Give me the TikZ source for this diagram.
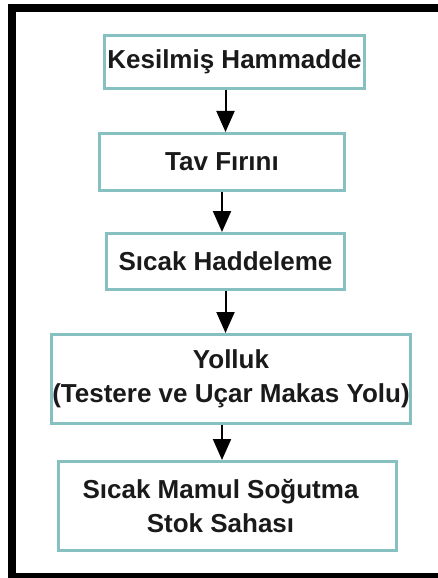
\documentclass[tikz,border=0pt]{standalone}
\usepackage{fontspec}
\setmainfont{Liberation Sans}
\usetikzlibrary{arrows.meta,positioning}
\definecolor{akisKenar}{HTML}{86C0C0}
\definecolor{akisYazi}{HTML}{1A1A1A}
\tikzset{
  kutu/.style={rectangle, draw=akisKenar, line width=3bp, fill=white, align=center, inner sep=0pt, text=akisYazi, font=\fontsize{26bp}{34bp}\selectfont\bfseries},
  ok/.style={-{Triangle[width=18bp,length=21bp]}, line width=2bp, draw=black}
}
\begin{document}
\begin{tikzpicture}[x=1bp, y=-1bp, node distance=42bp]
  \useasboundingbox (0,0) rectangle (438,578);
  \draw[line width=8bp] (446,8) -- (12,8) -- (12,577) -- (446,577);

  \node[kutu, minimum width=260bp, minimum height=53bp] (hammadde) at (234.5,62) {Kesilmiş Hammadde};
  \node[kutu, minimum width=245bp, minimum height=57bp, below=42bp of hammadde, xshift=-12.5bp] (tav) {Tav Fırını};
  \node[kutu, minimum width=238bp, minimum height=56bp, below=40bp of tav, xshift=3.5bp] (haddeleme) {Sıcak Haddeleme};
  \node[kutu, minimum width=359bp, minimum height=89bp, below=42bp of haddeleme, xshift=5.5bp] (yolluk) {Yolluk\\(Testere ve Uçar Makas Yolu)};
  \node[kutu, minimum width=338bp, minimum height=89bp, below=35bp of yolluk, xshift=-3.5bp] (sogutma) {Sıcak Mamul Soğutma\hspace*{14bp}\\Stok Sahası\hspace*{14bp}};

  \draw[ok] (hammadde.south -| haddeleme) -- (haddeleme |- tav.north);
  \draw[ok] (tav.south) -- (tav.south |- haddeleme.north);
  \draw[ok] (haddeleme.south) -- (haddeleme.south |- yolluk.north);
  \draw[ok] (yolluk.south -| tav) -- (tav |- sogutma.north);
\end{tikzpicture}
\end{document}
